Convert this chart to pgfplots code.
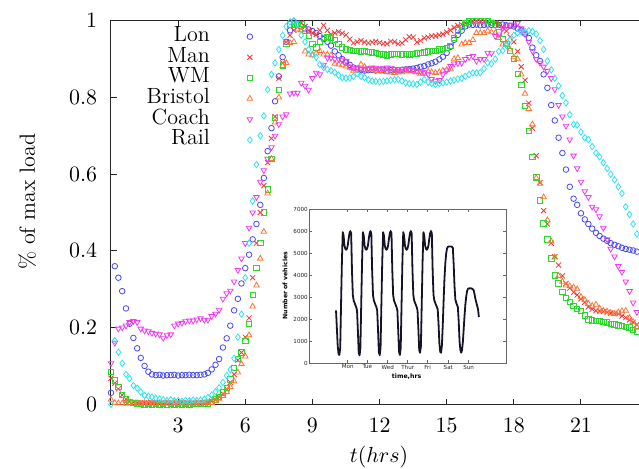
\documentclass[border=0pt]{standalone}
\usepackage{fontspec}
\usepackage{pgfplots}
\usepackage{pgfplotstable}
\pgfplotsset{compat=1.18}
\newfontfamily\insetfont{DejaVu Sans}
\definecolor{clon}{HTML}{4848F4}
\definecolor{cman}{HTML}{F23838}
\definecolor{cwm}{HTML}{2CD82C}
\definecolor{cbri}{HTML}{FF7434}
\definecolor{ccoach}{HTML}{F238F2}
\definecolor{crail}{HTML}{2CE4F2}
\definecolor{cinset}{RGB}{20,20,38}

\pgfplotstableread{
t lon man wm bri coach rail
0.00 0.030 0.068 0.085 0.012 0.107 0.000
0.17 0.360 0.055 0.062 0.004 0.160 0.166
0.33 0.330 0.040 0.045 0.003 0.197 0.136
0.50 0.295 0.024 0.025 0.003 0.200 0.107
0.67 0.250 0.013 0.013 0.002 0.205 0.078
0.83 0.210 0.007 0.006 0.003 0.214 0.067
1.00 0.173 0.005 0.003 0.002 0.217 0.049
1.17 0.146 0.004 0.002 0.003 0.214 0.042
1.33 0.121 0.003 0.001 0.002 0.197 0.032
1.50 0.100 0.004 0.000 0.003 0.192 0.023
1.67 0.085 0.003 0.001 0.002 0.190 0.021
1.83 0.078 0.004 0.000 0.003 0.186 0.019
2.00 0.076 0.003 0.001 0.002 0.184 0.016
2.17 0.077 0.004 0.000 0.003 0.182 0.014
2.33 0.075 0.003 0.001 0.002 0.173 0.012
2.50 0.076 0.004 0.000 0.003 0.180 0.010
2.67 0.076 0.003 0.001 0.002 0.182 0.012
2.83 0.077 0.004 0.000 0.003 0.205 0.009
3.00 0.075 0.003 0.001 0.002 0.210 0.010
3.17 0.076 0.004 0.000 0.003 0.212 0.008
3.33 0.076 0.003 0.001 0.002 0.216 0.010
3.50 0.077 0.004 0.000 0.003 0.218 0.009
3.67 0.076 0.003 0.001 0.002 0.218 0.011
3.83 0.076 0.004 0.001 0.003 0.221 0.010
4.00 0.077 0.004 0.001 0.002 0.224 0.011
4.17 0.078 0.004 0.002 0.003 0.220 0.013
4.33 0.082 0.005 0.002 0.003 0.220 0.018
4.50 0.091 0.008 0.006 0.004 0.230 0.024
4.67 0.103 0.012 0.013 0.008 0.236 0.033
4.83 0.118 0.019 0.020 0.015 0.246 0.043
5.00 0.148 0.027 0.031 0.022 0.275 0.057
5.17 0.172 0.040 0.042 0.032 0.289 0.075
5.33 0.205 0.057 0.065 0.045 0.296 0.090
5.50 0.245 0.078 0.095 0.060 0.320 0.120
5.67 0.275 0.115 0.118 0.083 0.350 0.175
5.83 0.315 0.135 0.135 0.105 0.380 0.235
6.00 0.355 0.175 0.165 0.125 0.420 0.330
6.17 0.390 0.225 0.210 0.180 0.460 0.420
6.33 0.430 0.330 0.285 0.255 0.500 0.530
6.50 0.470 0.420 0.355 0.310 0.540 0.625
6.67 0.520 0.500 0.420 0.380 0.580 0.700
6.83 0.590 0.570 0.500 0.450 0.610 0.752
7.00 0.660 0.630 0.560 0.550 0.640 0.820
7.17 0.720 0.693 0.640 0.640 0.670 0.860
7.33 0.790 0.750 0.747 0.735 0.700 0.890
7.50 0.855 0.850 0.820 0.800 0.730 0.925
7.67 0.905 0.890 0.884 0.882 0.750 0.962
7.83 0.945 0.945 0.940 0.890 0.756 0.985
8.00 0.975 0.962 0.990 0.942 0.810 0.997
8.17 0.998 0.975 0.990 0.945 0.812 1.000
8.33 0.990 0.983 0.991 0.977 0.812 0.990
8.50 0.985 0.994 0.992 0.975 0.838 0.962
8.67 0.980 0.985 0.975 0.920 0.830 0.945
8.83 0.977 0.975 0.960 0.912 0.820 0.925
9.00 0.973 0.968 0.940 0.910 0.850 0.912
9.17 0.968 0.964 0.930 0.915 0.864 0.905
9.33 0.960 0.975 0.945 0.921 0.860 0.886
9.50 0.952 0.988 0.955 0.912 0.885 0.878
9.67 0.945 0.975 0.958 0.912 0.903 0.873
9.83 0.935 0.964 0.955 0.910 0.903 0.870
10.00 0.920 0.968 0.950 0.888 0.900 0.865
10.17 0.910 0.971 0.940 0.886 0.900 0.858
10.33 0.900 0.967 0.930 0.884 0.898 0.852
10.50 0.891 0.963 0.925 0.881 0.895 0.850
10.67 0.885 0.952 0.924 0.878 0.880 0.851
10.83 0.878 0.942 0.922 0.870 0.877 0.855
11.00 0.873 0.945 0.921 0.875 0.878 0.862
11.17 0.872 0.948 0.920 0.886 0.875 0.855
11.33 0.870 0.944 0.921 0.880 0.874 0.852
11.50 0.871 0.942 0.919 0.873 0.876 0.846
11.67 0.872 0.944 0.917 0.873 0.878 0.843
11.83 0.870 0.946 0.916 0.870 0.877 0.842
12.00 0.871 0.943 0.914 0.869 0.875 0.841
12.17 0.872 0.940 0.912 0.867 0.876 0.842
12.33 0.870 0.940 0.910 0.866 0.878 0.843
12.50 0.871 0.946 0.912 0.865 0.877 0.845
12.67 0.872 0.945 0.914 0.864 0.874 0.846
12.83 0.871 0.940 0.913 0.865 0.873 0.847
13.00 0.872 0.942 0.912 0.866 0.874 0.843
13.17 0.873 0.950 0.913 0.868 0.875 0.838
13.33 0.874 0.958 0.912 0.869 0.873 0.836
13.50 0.875 0.957 0.914 0.868 0.870 0.835
13.67 0.877 0.944 0.915 0.866 0.869 0.834
13.83 0.880 0.948 0.916 0.862 0.868 0.840
14.00 0.882 0.955 0.917 0.862 0.865 0.847
14.17 0.886 0.957 0.920 0.868 0.860 0.840
14.33 0.889 0.960 0.921 0.866 0.848 0.836
14.50 0.893 0.960 0.922 0.864 0.843 0.834
14.67 0.899 0.963 0.925 0.866 0.845 0.836
14.83 0.906 0.965 0.927 0.870 0.860 0.838
15.00 0.916 0.970 0.929 0.872 0.870 0.840
15.17 0.932 0.975 0.935 0.875 0.882 0.843
15.33 0.950 0.982 0.955 0.900 0.888 0.845
15.50 0.963 0.987 0.975 0.903 0.889 0.848
15.67 0.974 0.990 0.985 0.938 0.890 0.850
15.83 0.985 0.995 0.995 0.942 0.900 0.855
16.00 0.990 0.997 0.998 0.942 0.905 0.860
16.17 0.989 0.999 1.000 0.950 0.908 0.864
16.33 0.990 1.000 1.000 0.968 0.895 0.864
16.50 0.988 0.998 1.000 0.968 0.900 0.865
16.67 0.989 0.999 1.000 0.968 0.900 0.875
16.83 0.990 0.997 1.000 0.973 0.916 0.890
17.00 0.989 0.996 0.995 0.970 0.915 0.888
17.17 0.988 0.994 0.990 0.968 0.960 0.900
17.33 0.989 0.990 0.970 0.955 0.964 0.920
17.50 0.990 0.982 0.952 0.938 0.981 0.922
17.67 0.988 0.973 0.940 0.940 0.988 0.935
17.83 0.987 0.958 0.922 0.925 0.988 0.950
18.00 0.985 0.945 0.900 0.905 0.990 0.962
18.17 0.980 0.920 0.862 0.900 0.994 0.968
18.33 0.975 0.880 0.832 0.860 0.980 0.971
18.50 0.966 0.845 0.778 0.810 0.965 0.972
18.67 0.955 0.785 0.712 0.770 0.945 0.974
18.83 0.930 0.720 0.645 0.730 0.921 0.972
19.00 0.910 0.648 0.592 0.590 0.900 0.965
19.17 0.895 0.578 0.532 0.575 0.890 0.948
19.33 0.860 0.505 0.472 0.540 0.880 0.925
19.50 0.825 0.470 0.430 0.480 0.869 0.895
19.67 0.780 0.420 0.380 0.425 0.850 0.872
19.83 0.740 0.385 0.336 0.383 0.821 0.850
20.00 0.695 0.363 0.315 0.335 0.780 0.830
20.17 0.655 0.335 0.293 0.320 0.750 0.805
20.33 0.612 0.315 0.278 0.310 0.726 0.786
20.50 0.567 0.303 0.267 0.308 0.690 0.755
20.67 0.536 0.292 0.257 0.305 0.648 0.730
20.83 0.520 0.285 0.249 0.300 0.615 0.728
21.00 0.498 0.275 0.244 0.280 0.580 0.710
21.17 0.482 0.266 0.232 0.272 0.555 0.695
21.33 0.470 0.254 0.221 0.262 0.540 0.690
21.50 0.458 0.248 0.219 0.257 0.515 0.672
21.67 0.447 0.244 0.218 0.260 0.508 0.655
21.83 0.439 0.243 0.217 0.250 0.490 0.645
22.00 0.432 0.242 0.215 0.244 0.460 0.630
22.17 0.426 0.240 0.213 0.242 0.430 0.615
22.33 0.420 0.238 0.210 0.238 0.405 0.600
22.50 0.416 0.237 0.208 0.236 0.385 0.585
22.67 0.412 0.236 0.206 0.240 0.360 0.567
22.83 0.408 0.230 0.205 0.243 0.345 0.550
23.00 0.405 0.226 0.202 0.244 0.320 0.515
23.17 0.403 0.220 0.200 0.225 0.295 0.495
23.33 0.401 0.214 0.194 0.215 0.265 0.470
23.50 0.398 0.208 0.190 0.200 0.240 0.444
}\loaddata

\begin{document}
\begin{tikzpicture}
\useasboundingbox (-55.5pt,-31.85pt) rectangle (264pt,202.15pt);
\begin{axis}[
  name=main, at={(0pt,0pt)}, anchor=south west,
  scale only axis, width=268.56pt, height=191.8pt,
  xmin=0, xmax=24, ymin=0, ymax=1,
  xtick={3,6,...,21}, ytick={0,0.2,0.4,0.6,0.8,1},
  tick align=inside, major tick length=2.8pt,
  axis line style={black!85, line width=0.5pt},
  every tick/.style={black!85, line width=0.5pt},
  tick label style={font=\fontsize{11}{13}\selectfont},
  yticklabel style={xshift=-3.4pt},
  xticklabel style={yshift=-3.7pt},
  xlabel={$t(hrs)$}, ylabel={\% of max load},
  label style={font=\fontsize{11}{13}\selectfont},
  xlabel style={at={(axis description cs:0.499,-0.137)}, anchor=center},
  ylabel style={at={(axis description cs:-0.156,0.528)}, anchor=center},
  clip=false,
  legend plot pos=right, legend cell align=right,
  legend image code/.code={\draw[#1] plot coordinates {(0pt,0pt)};},
  legend style={draw=none, fill=none, inner sep=0pt, outer sep=0pt,
    at={(axis description cs:0.2638,0.9853)}, anchor=north east,
    row sep=0pt, column sep=18.65pt,
    nodes={inner sep=0pt, text height=7.6pt, text depth=2.73pt},
    font=\fontsize{11}{13}\selectfont},
  every axis plot/.append style={only marks, line width=0.4pt},
]
\addplot[color=clon, mark=o, mark size=1.4pt] table[x=t,y=lon]{\loaddata};
\addlegendentry{Lon}
\addplot[color=cman, mark=x, mark size=1.8pt] table[x=t,y=man]{\loaddata};
\addlegendentry{Man}
\addplot[color=cwm, mark=square, mark size=1.35pt] table[x=t,y=wm]{\loaddata};
\addlegendentry{WM}
\addplot[color=cbri, mark=triangle, mark size=1.6pt] table[x=t,y=bri]{\loaddata};
\addlegendentry{Bristol}
\addplot[color=ccoach, mark=triangle, mark size=1.6pt, mark options={rotate=180}] table[x=t,y=coach]{\loaddata};
\addlegendentry{Coach}
\addplot[color=crail, mark=diamond, mark size=1.6pt] table[x=t,y=rail]{\loaddata};
\addlegendentry{Rail}
\end{axis}

\begin{axis}[
  at={(99.15pt,20.5pt)}, anchor=south west,
  scale only axis, width=98.7pt, height=77.15pt,
  xmin=-31.8, xmax=203.1, ymin=0, ymax=7000,
  xtick={13.9,37.2,61.5,85.3,109.1,133.6,157.9},
  xticklabels={Mon,Tue,Wed,Thur,Fri,Sat,Sun},
  ytick={0,1000,2000,3000,4000,5000,6000,7000},
  yticklabels={0,1000,2000,3000,4000,5000,6000,7000},
  tick align=inside, major tick length=1.6pt,
  axis line style={black!60, line width=0.3pt},
  every tick/.style={black!60, line width=0.3pt},
  tick label style={font=\insetfont\fontsize{2.8}{3.2}\selectfont, text=black!85},
  yticklabel style={inner sep=0.6pt},
  xticklabel style={inner sep=0.6pt},
  xlabel={time,hrs}, ylabel={Number of vehicles},
  label style={font=\insetfont\bfseries\fontsize{3.1}{3.6}\selectfont},
  xlabel style={at={(axis description cs:0.493,-0.087)}, anchor=center},
  ylabel style={at={(axis description cs:-0.123,0.503)}, anchor=center},
  clip=true,
]
\addplot[color=cinset, line width=0.9pt, line join=round] coordinates {
(0,2400)(1,1600)(2,800)(3,420)(4,380)(5,700)(6,2700)(7,4600)(8,5950)(9,5800)(10,5350)(11,5200)(12,5150)(13,5200)(14,5350)(15,5650)(16,5900)(17,6000)(18,5900)(19,4200)(20,3100)(21,2850)(22,2750)(23,2650)
(24,2550)(25,2400)(26,1500)(27,500)(28,360)(29,700)(30,2700)(31,4600)(32,5950)(33,5800)(34,5350)(35,5200)(36,5150)(37,5200)(38,5350)(39,5650)(40,5900)(41,6000)(42,5900)(43,4200)(44,3100)(45,2850)(46,2750)(47,2650)
(48,2550)(49,2400)(50,1500)(51,500)(52,370)(53,700)(54,2700)(55,4600)(56,5950)(57,5800)(58,5350)(59,5200)(60,5150)(61,5200)(62,5350)(63,5650)(64,5900)(65,6000)(66,5900)(67,4200)(68,3100)(69,2850)(70,2750)(71,2650)
(72,2550)(73,2400)(74,1500)(75,520)(76,380)(77,700)(78,2700)(79,4600)(80,5950)(81,5800)(82,5350)(83,5200)(84,5150)(85,5200)(86,5350)(87,5650)(88,5900)(89,6000)(90,5900)(91,4200)(92,3100)(93,2850)(94,2750)(95,2650)
(96,2550)(97,2400)(98,1550)(99,600)(100,480)(101,750)(102,2700)(103,4600)(104,5950)(105,5800)(106,5350)(107,5200)(108,5150)(109,5200)(110,5350)(111,5650)(112,5900)(113,6000)(114,5900)(115,4200)(116,3100)(117,2850)(118,2750)(119,2650)
(120,2550)(121,2450)(122,1800)(123,900)(124,520)(125,480)(126,800)(127,1700)(128,2800)(129,3800)(130,4500)(131,4950)(132,5200)(133,5280)(134,5300)(135,5300)(136,5300)(137,5300)(138,5280)(139,5250)(140,4500)(141,3500)(142,2900)(143,2750)
(144,2650)(145,2550)(146,1900)(147,1000)(148,600)(149,480)(150,600)(151,1000)(152,1600)(153,2200)(154,2700)(155,3050)(156,3280)(157,3380)(158,3400)(159,3400)(160,3400)(161,3400)(162,3380)(163,3350)(164,3300)(165,3100)(166,2900)(167,2750)(168,2600)(169,2450)(170,2100)
};
\end{axis}
\end{tikzpicture}
\end{document}
